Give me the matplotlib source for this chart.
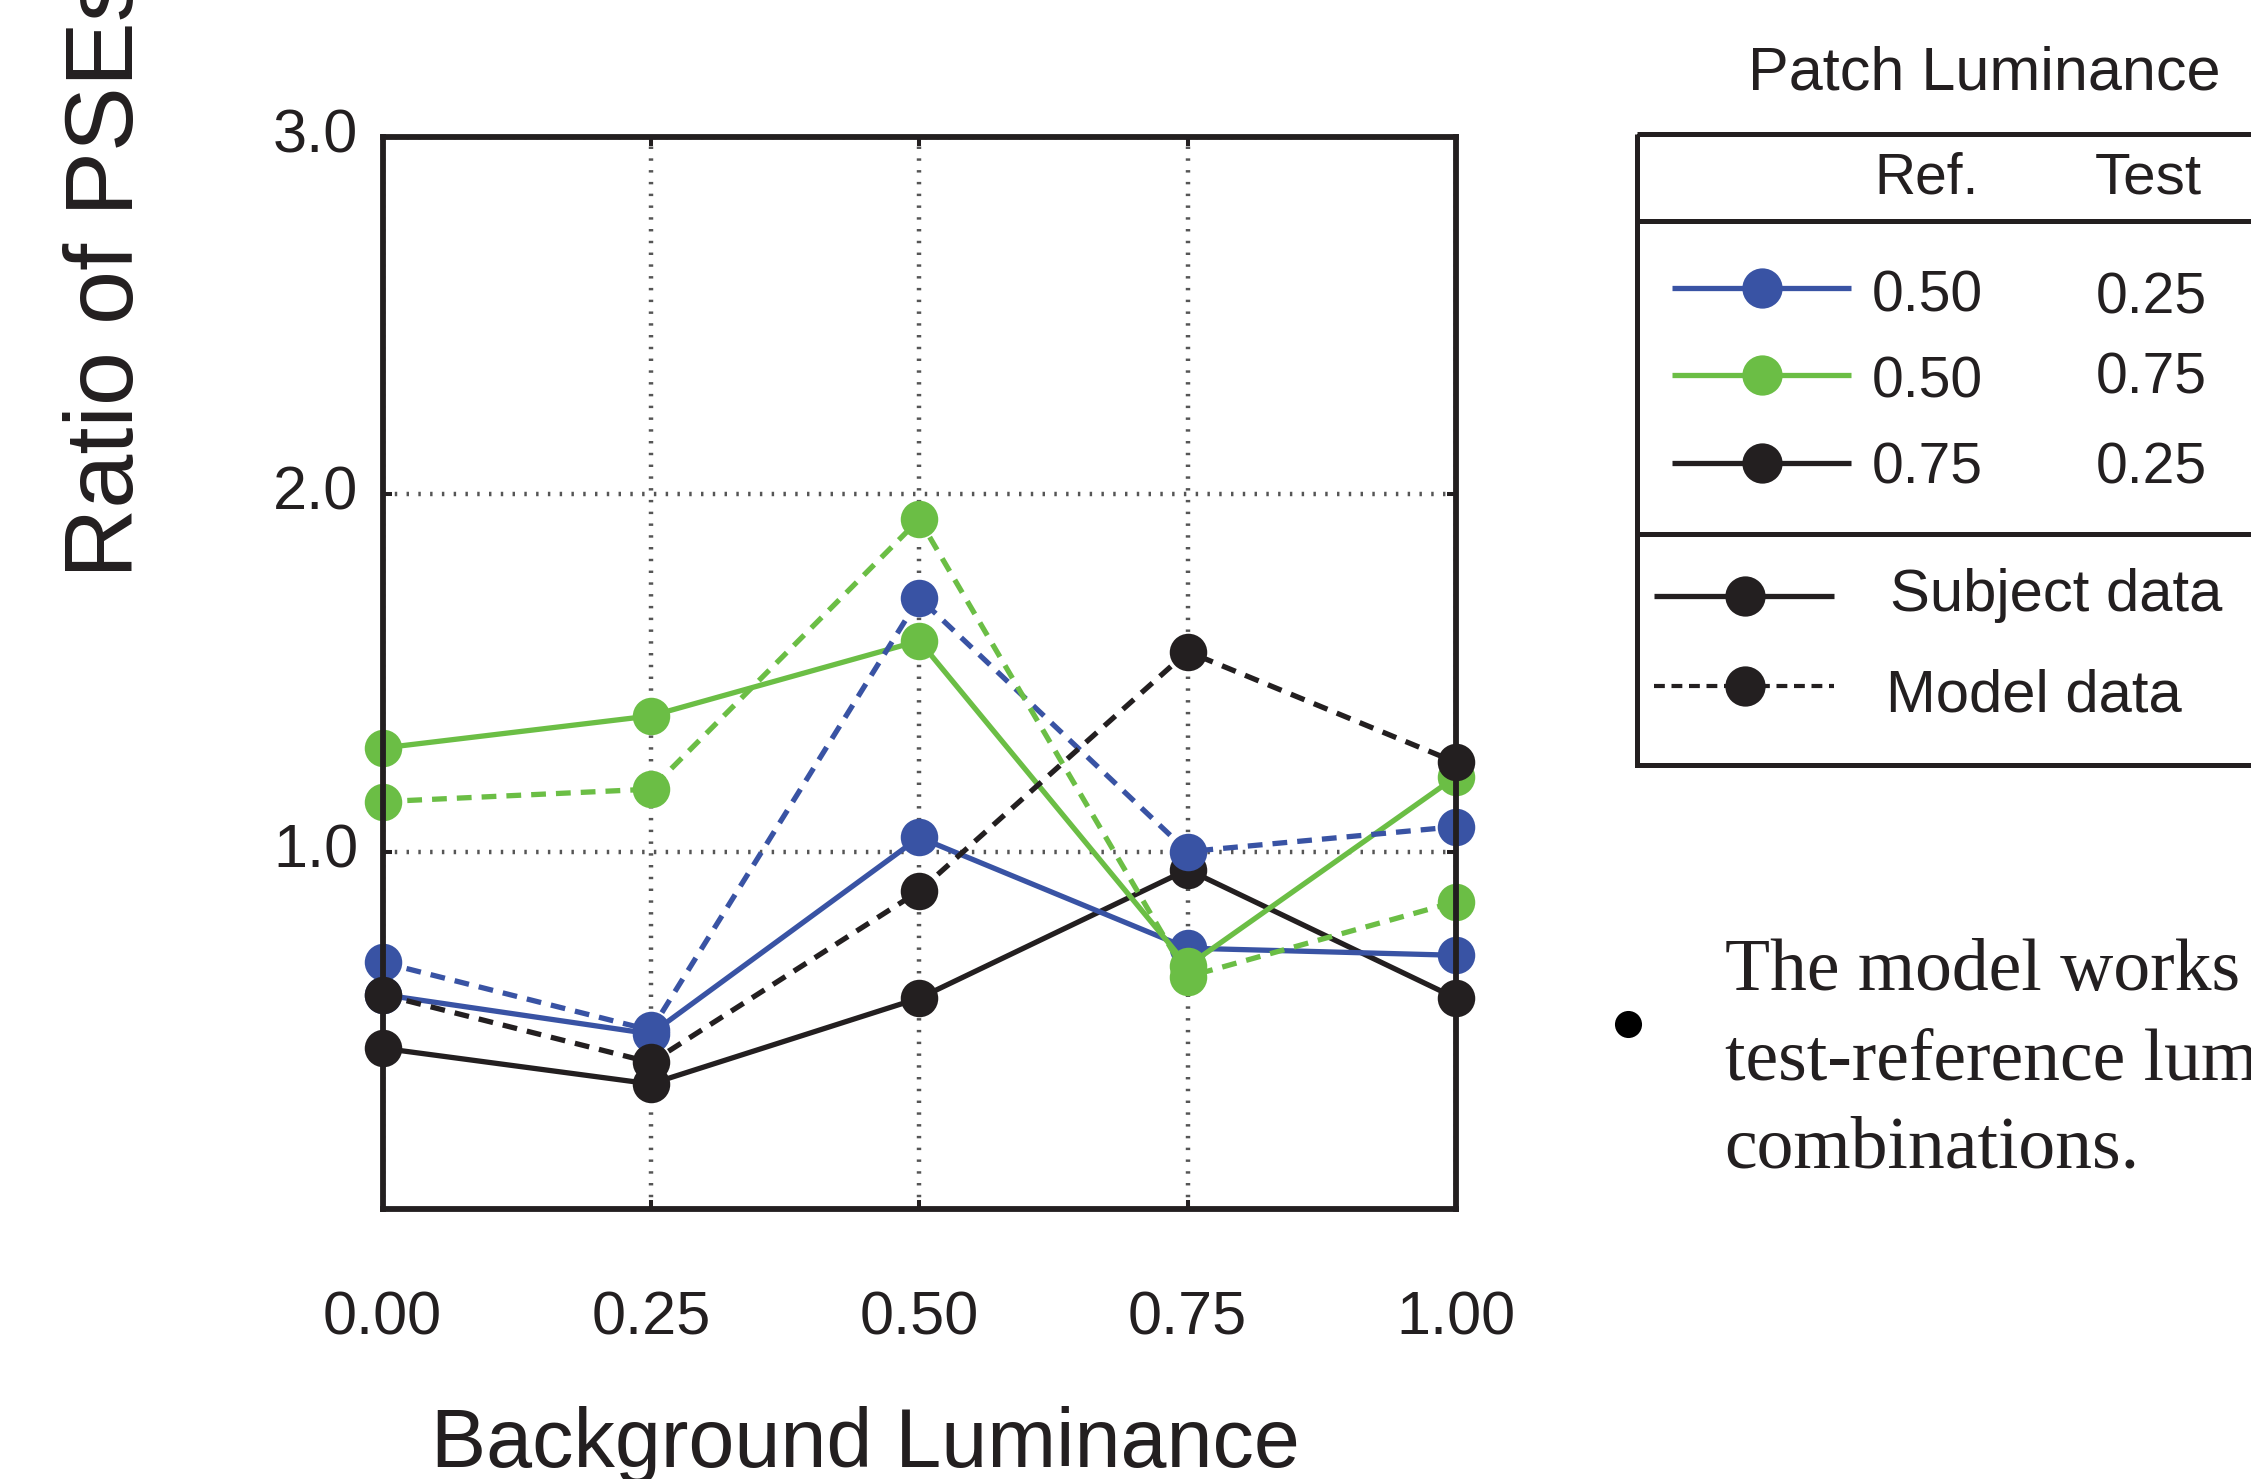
import matplotlib
matplotlib.use("Agg")
import matplotlib.pyplot as plt
from matplotlib.patches import Rectangle

plt.rcParams['font.family'] = ['Liberation Sans', 'DejaVu Sans']

# ---------------- data ----------------
bg_lum = [0.00, 0.25, 0.50, 0.75, 1.00]
x_tick_labels = ["0.00", "0.25", "0.50", "0.75", "1.00"]
y_ticks = [1.0, 2.0, 3.0]
y_tick_labels = ["1.0", "2.0", "3.0"]

# Subject data (solid lines)
subj_050_025 = [0.60, 0.49, 1.04, 0.73, 0.71]
subj_050_075 = [1.29, 1.38, 1.59, 0.68, 1.21]
subj_075_025 = [0.45, 0.35, 0.59, 0.95, 0.59]
# Model data (dashed lines)
model_050_025 = [0.69, 0.50, 1.71, 1.00, 1.07]
model_050_075 = [1.14, 1.175, 1.93, 0.65, 0.86]
model_075_025 = [0.60, 0.41, 0.89, 1.56, 1.25]

ref_lum = ["0.50", "0.50", "0.75"]
test_lum = ["0.25", "0.75", "0.25"]
series_colors = ["#3953A4", "#6BBE45", "#231F20"]
text_color = "#231F20"

bullet_lines = ["The model works well for all",
                "test-reference luminance",
                "combinations."]

# ---------------- figure ----------------
W, H = 2251, 1479
fig = plt.figure(figsize=(W / 100, H / 100), dpi=100)
fig.patch.set_facecolor("white")

ax_l, ax_r, ax_t, ax_b = 382.5, 1456.0, 137.0, 1209.0
ax = fig.add_axes([ax_l / W, 1 - ax_b / H, (ax_r - ax_l) / W, (ax_b - ax_t) / H])

subject = [subj_050_025, subj_050_075, subj_075_025]
model = [model_050_025, model_050_075, model_075_025]

# solid first (black, blue, green) then dashed (blue, green, black)
solid_order = [2, 0, 1]
for i in solid_order:
    ax.plot(bg_lum, subject[i], color=series_colors[i], lw=3.8, ls='-',
            marker='o', ms=27, mew=0, clip_on=False, zorder=3)
for i in [0, 1, 2]:
    ax.plot(bg_lum, model[i], color=series_colors[i], lw=3.8, ls=(0, (2.8, 1.9)),
            marker='o', ms=27, mew=0, clip_on=False, zorder=4)

ax.set_xlim(0, 1)
ax.set_ylim(0, 3)
ax.set_xticks(bg_lum)
ax.set_xticklabels(x_tick_labels)
ax.set_yticks(y_ticks)
ax.set_yticklabels(y_tick_labels)
for lab in ax.get_yticklabels():
    lab.set_verticalalignment('center')

ax.set_axisbelow(True)
ax.grid(True, color='#555555', lw=3.2, ls=(0, (0.55, 2.1)), dash_capstyle='butt')

for s in ax.spines.values():
    s.set_linewidth(4.2)
    s.set_color(text_color)
    s.set_zorder(5)

ax.tick_params(direction='in', length=6.5, width=2.9, top=True, right=True,
               labelsize=44, colors=text_color)
ax.tick_params(axis='x', pad=59)
ax.tick_params(axis='y', pad=17.5)

# ---------------- axis titles ----------------
fig.text(133 / W, 1 - 578 / H, "Ratio of PSEs", rotation=90, rotation_mode='anchor',
         ha='left', va='baseline', fontsize=70, color=text_color)
fig.text(865 / W, 1 - 1467 / H, "Background Luminance", ha='center', va='baseline',
         fontsize=59.5, color=text_color)

# ---------------- legend / annotation overlay (pixel coordinates) ----------------
ov = fig.add_axes([0, 0, 1, 1])
ov.set_xlim(0, W)
ov.set_ylim(H, 0)
ov.set_axis_off()

ov.text(1748.5, 89.6, "Patch Luminance", fontsize=44, ha='left', va='baseline', color=text_color)

box_lw = 3.6
ov.add_patch(Rectangle((1637, 133.5), 800, 631, fill=False, lw=box_lw,
                       edgecolor=text_color, clip_on=False))
ov.plot([1637, 2300], [221, 221], color=text_color, lw=box_lw, solid_capstyle='butt')
ov.plot([1637, 2300], [533.5, 533.5], color=text_color, lw=box_lw, solid_capstyle='butt')

ov.text(1874, 193, "Ref.", fontsize=41, ha='left', va='baseline', color=text_color)
ov.text(2095, 193, "Test", fontsize=42, ha='left', va='baseline', color=text_color)

row_y = [287.6, 374.6, 462.7]
ref_base = [311, 397, 484]
test_base = [314, 393, 484]
for i in range(3):
    ov.plot([1672, 1851], [row_y[i], row_y[i]], color=series_colors[i], lw=3.8,
            solid_capstyle='butt')
    ov.plot([1762], [row_y[i]], 'o', color=series_colors[i], ms=29, mew=0)
    ov.text(1872, ref_base[i], ref_lum[i], fontsize=41, ha='left', va='baseline', color=text_color)
    ov.text(2096, test_base[i], test_lum[i], fontsize=41, ha='left', va='baseline', color=text_color)

ov.plot([1654, 1834], [595.5, 595.5], color=text_color, lw=3.8, solid_capstyle='butt')
ov.plot([1745], [595.5], 'o', color=text_color, ms=29, mew=0)
ov.text(1890, 611, "Subject data", fontsize=43, ha='left', va='baseline', color=text_color)

ov.plot([1654, 1834], [685.6, 685.6], color=text_color, lw=3.0, ls=(0, (2.6, 1.6)),
        dash_capstyle='butt')
ov.plot([1745], [685.6], 'o', color=text_color, ms=29, mew=0)
ov.text(1886, 711, "Model data", fontsize=43, ha='left', va='baseline', color=text_color)

# bullet point text
ov.plot([1628], [1024], 'o', color='black', ms=19.5, mew=0)
for line, yb in zip(bullet_lines, [990, 1079, 1168]):
    ov.text(1724.6, yb, line, fontsize=53, ha='left', va='baseline', color=text_color,
            family=['Liberation Serif', 'DejaVu Serif'])

fig.savefig("out.png", dpi=100)
